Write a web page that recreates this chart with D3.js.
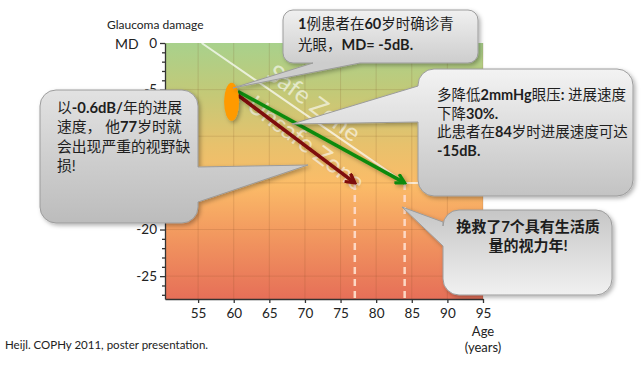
<!DOCTYPE html>
<html><head><meta charset="utf-8">
<script src="https://cdn.jsdelivr.net/npm/d3@7/dist/d3.min.js"></script>
<style>
body{margin:0;background:#fff;}
svg{display:block;font-family:Lato,'Noto Sans CJK SC',sans-serif;}
</style>
</head><body>
<svg id="chart" width="641" height="366"></svg>
<script>
// ---- data ----
const ageDomain = [50.35, 95];
const mdDomain = [-27.45, 0];
const ageTicks = [55, 60, 65, 70, 75, 80, 85, 90, 95];
const mdTicks = [0, -5, -10, -15, -20, -25];
const mdHiddenLabels = [-10, -15]; // covered by the left callout in the original
const mdMinorTicks = [-1,-2,-3,-4,-6,-7,-8,-9,-11,-12,-13,-14,-16,-17,-18,-19,-21,-22,-23,-24,-26,-27];
const diagnosisPoint = [59.7, -6.3];
const untreatedPath = [[60.6, -5.6], [77, -15]];
const treatedPath = [[60.6, -5.2], [84, -15]];
const lossAges = [77, 84];
const lossMD = -15;
const zoneLine = [[55.5, 0], [84, -15], [88, -15]];
const zoneLabels = ["Safe Zone", "Unsafe Zone"];
const callout1Lines = [[["1","b"],["例患者在",""],["60","b"],["岁时确诊青",""]], [["光眼，",""],["MD= -5dB.","b"]]];
const callout2Lines = [[["以",""],["-0.6dB/","b"],["年的进展",""]], [["速度， 他",""],["77","b"],["岁时就",""]], [["会出现严重的视野缺",""]], [["损!",""]]];
const callout3Lines = [[["多降低",""],["2mmHg","b"],["眼压",""],[": ","b"],["进展速度",""]], [["下降",""],["30%.","b"]], [["此患者在",""],["84","b"],["岁时进展速度可达",""]], [["-15dB.","b"]]];
const callout4Lines = ["挽救了7个具有生活质", "量的视力年!"];

// ---- layout ----
const plot = {left:165, right:483, top:43, bottom:299};
const svg = d3.select("#chart");
const x = d3.scaleLinear().domain(ageDomain).range([plot.left, plot.right]);
const y = d3.scaleLinear().domain(mdDomain).range([plot.bottom, plot.top]);

const defs = svg.append("defs");
const bg = defs.append("linearGradient").attr("id","bg").attr("x1",0).attr("y1",0).attr("x2",0).attr("y2",1);
[[0,"#a8d18c"],[0.2,"#c4c977"],[0.4,"#e8c16c"],[0.55,"#fbbc68"],[0.75,"#f2985f"],[1,"#e66f58"]]
  .forEach(([o,c])=>bg.append("stop").attr("offset",o).attr("stop-color",c));
const sh = defs.append("filter").attr("id","shadow").attr("x","-20%").attr("y","-20%").attr("width","150%").attr("height","150%");
sh.append("feDropShadow").attr("dx",2).attr("dy",2).attr("stdDeviation",2).attr("flood-color","#000").attr("flood-opacity",0.3);

function grad(id, y1, y2, c1, c2){
  const g = defs.append("linearGradient").attr("id",id).attr("gradientUnits","userSpaceOnUse")
    .attr("x1",0).attr("x2",0).attr("y1",y1).attr("y2",y2);
  g.append("stop").attr("offset",0).attr("stop-color",c1);
  g.append("stop").attr("offset",1).attr("stop-color",c2);
}

// background
svg.append("rect").attr("x",plot.left).attr("y",plot.top)
  .attr("width",plot.right-plot.left).attr("height",plot.bottom-plot.top).attr("fill","url(#bg)");

// grid
const grid = svg.append("g").attr("stroke","rgba(120,70,30,0.16)").attr("stroke-width",1);
grid.selectAll(".vx").data(ageTicks).join("line")
  .attr("x1",d=>x(d)).attr("x2",d=>x(d)).attr("y1",plot.top).attr("y2",plot.bottom);
grid.selectAll(".hy").data(mdTicks.filter(d=>d<0)).join("line")
  .attr("y1",d=>y(d)).attr("y2",d=>y(d)).attr("x1",plot.left).attr("x2",plot.right);

// zone line and labels
svg.append("path").datum(zoneLine)
  .attr("d", d3.line().x(d=>x(d[0])).y(d=>y(d[1])))
  .attr("fill","none").attr("stroke","rgba(255,255,255,0.7)").attr("stroke-width",2);
const zonePos = [[315,102],[307,142]];
svg.selectAll(".zone").data(zoneLabels).join("text")
  .attr("transform",(d,i)=>`translate(${zonePos[i][0]},${zonePos[i][1]}) rotate(37)`)
  .attr("text-anchor","middle").attr("dominant-baseline","central")
  .attr("font-size",25).attr("fill","rgba(255,255,255,0.6)").text(d=>d);

// dashed loss lines
svg.selectAll(".loss").data(lossAges).join("line")
  .attr("x1",d=>x(d)).attr("x2",d=>x(d)).attr("y1",y(lossMD)).attr("y2",plot.bottom)
  .attr("stroke","#fdd8c4").attr("stroke-width",2.5).attr("stroke-dasharray","7,5");

// axes
svg.append("g").attr("transform",`translate(${plot.left},0)`)
  .call(d3.axisLeft(y).tickValues(mdTicks).tickSize(5).tickPadding(3)
    .tickFormat(d=>mdHiddenLabels.includes(d) ? "" : String(d)).tickSizeOuter(0));
svg.append("g").attr("transform",`translate(${plot.left},0)`)
  .call(d3.axisLeft(y).tickValues(mdMinorTicks).tickSize(3).tickFormat("").tickSizeOuter(0))
  .call(g=>g.select(".domain").remove());
svg.append("g").attr("transform",`translate(0,${plot.bottom})`)
  .call(d3.axisBottom(x).tickValues(ageTicks).tickSize(4).tickPadding(5).tickSizeOuter(0));
svg.selectAll(".tick text").attr("font-size",13.5).attr("fill","#222").attr("font-family","Lato,sans-serif");
svg.selectAll(".domain,.tick line").attr("stroke","#333").attr("stroke-width",1.3);

// axis titles
svg.append("text").attr("x",107).attr("y",29).attr("font-size",12).attr("fill","#222").text("Glaucoma damage");
svg.append("text").attr("x",115).attr("y",49).attr("font-size",14).attr("fill","#222").text("MD");
svg.append("text").attr("x",483).attr("y",336).attr("text-anchor","middle").attr("font-size",13).attr("fill","#222").text("Age");
svg.append("text").attr("x",483).attr("y",352).attr("text-anchor","middle").attr("font-size",13).attr("fill","#222").text("(years)");
svg.append("text").attr("x",5).attr("y",349).attr("font-size",11.5).attr("fill","#222").text("Heijl. COPHy 2011, poster presentation.");

// arrows
function arrowHead(color, id){
  defs.append("marker").attr("id",id).attr("viewBox","0 0 12 12").attr("refX",10).attr("refY",6)
    .attr("markerWidth",12).attr("markerHeight",12).attr("markerUnits","userSpaceOnUse").attr("orient","auto")
    .append("path").attr("d","M1,1 L10,6 L1,11").attr("fill","none").attr("stroke",color).attr("stroke-width",3.2)
    .attr("stroke-linejoin","miter");
}
arrowHead("#7e0808","hr"); arrowHead("#0f8a0f","hg");
const line = d3.line().x(d=>x(d[0])).y(d=>y(d[1]));
svg.append("path").datum(untreatedPath).attr("d",line).attr("stroke","#7e0808").attr("stroke-width",3.5)
  .attr("fill","none").attr("marker-end","url(#hr)").attr("filter","url(#shadow)");
svg.append("path").datum(treatedPath).attr("d",line).attr("stroke","#0f8a0f").attr("stroke-width",3.5)
  .attr("fill","none").attr("marker-end","url(#hg)").attr("filter","url(#shadow)");

// diagnosis ellipse
svg.append("ellipse").attr("cx",x(diagnosisPoint[0])).attr("cy",y(diagnosisPoint[1]))
  .attr("rx",7.5).attr("ry",19).attr("fill","#ff9a00").attr("filter","url(#shadow)");

// callouts
function calloutPath(bx,by,w,h,r,side,a,b,tip){
  let p = `M${bx+r},${by} H${bx+w-r} A${r},${r} 0 0 1 ${bx+w},${by+r} `;
  if(side==="right") p += `V${a} L${tip[0]},${tip[1]} L${bx+w},${b} `;
  p += `V${by+h-r} A${r},${r} 0 0 1 ${bx+w-r},${by+h} `;
  if(side==="bottom") p += `H${b} L${tip[0]},${tip[1]} L${a},${by+h} `;
  p += `H${bx+r} A${r},${r} 0 0 1 ${bx},${by+h-r} `;
  if(side==="left") p += `V${b} L${tip[0]},${tip[1]} L${bx},${a} `;
  p += `V${by+r} A${r},${r} 0 0 1 ${bx+r},${by} Z`;
  return p;
}
function callout(id, box, side, a, b, tip, c1, c2){
  grad(id, box[1], box[1]+box[3], c1, c2);
  svg.append("path").attr("d",calloutPath(box[0],box[1],box[2],box[3],box[4],side,a,b,tip))
    .attr("fill",`url(#${id})`).attr("stroke","#9c9c9c").attr("stroke-width",1).attr("filter","url(#shadow)");
}
function richText(lines, x0, y0, lh, fs){
  const t = svg.append("text").attr("font-size",fs).attr("fill","#1e1e1e");
  lines.forEach((ln,i)=>{
    ln.forEach((seg,j)=>{
      const ts = t.append("tspan").text(seg[0]).attr("font-weight", seg[1]==="b"?700:400);
      if(j===0) ts.attr("x",x0).attr("y",y0+i*lh);
    });
  });
}
callout("c1",[283,10,195,53,10],"bottom",313,360,[233,88],"#f0f0f0","#cdcdcd");
richText(callout1Lines, 298, 29, 20.5, 14.5);
callout("c2",[40,90,158,133,16],"right",167,202,[308,165],"#e2e2e2","#bcbcbc");
richText(callout2Lines, 57, 113, 19.3, 14.8);
callout("c3",[418,69,215,127,16],"left",86,122,[292,124],"#f3f3f3","#c3c3c3");
richText(callout3Lines, 437, 100, 18.5, 14.5);
callout("c4",[443,210,169,85,16],"left",222,246,[402,207],"#c6c6c6","#f1f1f1");
svg.append("g").selectAll("text").data(callout4Lines).join("text")
  .attr("x",528).attr("y",(d,i)=>232+i*18.5).attr("text-anchor","middle")
  .attr("font-size",15).attr("font-weight",700).attr("fill","#1e1e1e").text(d=>d);
</script>
</body></html>
